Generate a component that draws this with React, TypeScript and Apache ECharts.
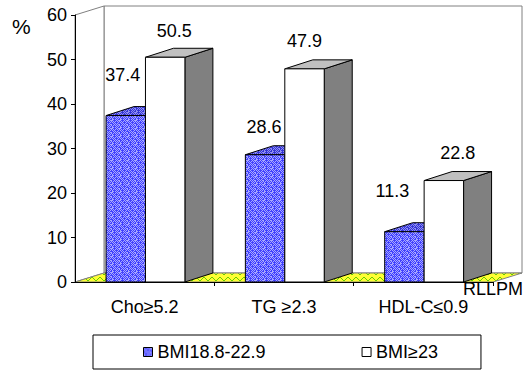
import React, { useEffect, useRef } from "react";
import * as echarts from "echarts";

const categories = ["Cho≥5.2", "TG ≥2.3", "HDL-C≤0.9"];
const seriesNames = ["BMI18.8-22.9", "BMI≥23"];
const bmiNormal = [37.4, 28.6, 11.3];
const bmiHigh = [50.5, 47.9, 22.8];
const yTicks = { min: 0, max: 60, interval: 10 };

const FONT = "'Liberation Sans', Arial, sans-serif";
const DX = 28;
const DY = -9;
const FDX = 29;

function makePattern(base: string, light: string, w: number, h: number, draw: (ctx: CanvasRenderingContext2D) => void) {
  const c = document.createElement("canvas");
  c.width = w;
  c.height = h;
  const ctx = c.getContext("2d")!;
  ctx.fillStyle = base;
  ctx.fillRect(0, 0, w, h);
  ctx.strokeStyle = light;
  ctx.fillStyle = light;
  draw(ctx);
  return { image: c, repeat: "repeat" } as any;
}

function weave(ctx: CanvasRenderingContext2D) {
  const rows = [
    "X...X.XX",
    ".X.X.X.X",
    "X.X...X.",
    ".X.X.X..",
    "..X.X.XX",
    ".X.X.X.X",
    "X...X.X.",
    "XX.X.X..",
  ];
  rows.forEach((r, y) => {
    for (let x = 0; x < r.length; x++) if (r[x] === "X") ctx.fillRect(x, y, 1, 1);
  });
}

function zigzag(ctx: CanvasRenderingContext2D) {
  ctx.lineWidth = 1;
  ctx.beginPath();
  ctx.moveTo(0, 5);
  ctx.lineTo(4, 1);
  ctx.lineTo(8, 5);
  ctx.stroke();
}

const labelNudge = [
  [[-3, -41], [-1, -28], [-12, -41]],
  [[9, -26], [0, -28], [14, -28]],
];

export default function App() {
  const ref = useRef<HTMLDivElement>(null);
  useEffect(() => {
    if (!ref.current) return;
    const chart = echarts.init(ref.current, null, { renderer: "svg" });

    const bluePat = makePattern("#4040ff", "#a8a8ff", 8, 8, weave);
    const blueTopPat = makePattern("#3434d8", "#9090f0", 8, 8, weave);
    const floorPat = makePattern("#ffff33", "#66cc00", 8, 6, zigzag);

    const barRender = (sIdx: number) => (params: any, api: any) => {
      const i = api.value(0);
      const v = api.value(1);
      const base = api.coord([i, 0]);
      const top = api.coord([i, v]);
      const band = api.size([1, 0])[0];
      const W = band * 0.283;
      const c = base[0] + 0.8;
      const x0 = sIdx === 0 ? c - W : c;
      const x1 = x0 + W;
      const yT = top[1];
      const yB = base[1];
      const frontFill = sIdx === 0 ? bluePat : "#ffffff";
      const topFill = sIdx === 0 ? blueTopPat : "#c0c0c0";
      const sideFill = sIdx === 0 ? "#2020a0" : "#808080";
      const stroke = { stroke: "#000", lineWidth: 1 };
      const nudge = labelNudge[sIdx][params.dataIndex];
      return {
        type: "group",
        children: [
          {
            type: "polygon",
            shape: { points: [[x1, yT], [x1 + DX, yT + DY], [x1 + DX, yB + DY], [x1, yB]] },
            style: { fill: sideFill, ...stroke },
          },
          {
            type: "polygon",
            shape: { points: [[x0, yT], [x1, yT], [x1 + DX, yT + DY], [x0 + DX, yT + DY]] },
            style: { fill: topFill, ...stroke },
          },
          {
            type: "rect",
            shape: { x: x0, y: yT, width: W, height: yB - yT },
            style: { fill: frontFill, ...stroke },
          },
          {
            type: "text",
            x: x0 + W / 2 + nudge[0],
            y: yT + nudge[1],
            style: {
              text: String(v),
              fontSize: 18,
              fontFamily: FONT,
              fill: "#000",
              align: "center",
              verticalAlign: "middle",
            },
          },
        ],
      };
    };

    const frameRender = (params: any, api: any) => {
      const cs = params.coordSys;
      const l = cs.x;
      const t = cs.y;
      const r = cs.x + cs.width;
      const b = cs.y + cs.height;
      const gray = { stroke: "#808080", lineWidth: 1 };
      return {
        type: "group",
        children: [
          {
            type: "polygon",
            shape: { points: [[l + FDX, t + DY], [r + FDX, t + DY], [r + FDX, b + DY], [l + FDX, b + DY]] },
            style: { fill: "#fff", ...gray },
          },
          {
            type: "polygon",
            shape: { points: [[l, t], [l + FDX, t + DY], [l + FDX, b + DY], [l, b]] },
            style: { fill: "#fff", ...gray },
          },
          {
            type: "polygon",
            shape: { points: [[l, b], [r, b], [r + FDX, b + DY], [l + FDX, b + DY]] },
            style: { fill: floorPat, ...gray },
          },
        ],
      };
    };

    chart.setOption({
      animation: false,
      backgroundColor: "#fff",
      textStyle: { fontFamily: FONT },
      grid: { left: 75, top: 15, width: 418, height: 267 },
      xAxis: {
        type: "category",
        data: categories,
        axisLine: { lineStyle: { color: "#000", width: 1 } },
        axisTick: {
          show: true,
          length: 4,
          lineStyle: { color: "#000" },
          interval: (i: number) => i === 1 || i === 2,
        },
        axisLabel: { fontSize: 18, color: "#000", margin: 16, fontFamily: FONT },
      },
      yAxis: {
        type: "value",
        min: yTicks.min,
        max: yTicks.max,
        interval: yTicks.interval,
        axisLine: { show: true, lineStyle: { color: "#000", width: 1 } },
        axisTick: { show: true, length: 4, lineStyle: { color: "#000" } },
        axisLabel: { fontSize: 18, color: "#000", margin: 8, fontFamily: FONT },
        splitLine: { show: false },
      },
      legend: {
        left: 93,
        top: 335,
        orient: "horizontal",
        itemGap: 96,
        itemWidth: 9,
        itemHeight: 9,
        padding: [8, 43, 8, 50],
        borderColor: "#000",
        borderWidth: 1,
        textStyle: { fontSize: 18, color: "#000", fontFamily: FONT },
        data: [
          { name: seriesNames[0], icon: "rect", itemStyle: { color: bluePat, borderColor: "#000", borderWidth: 1 } },
          { name: seriesNames[1], icon: "rect", itemStyle: { color: "#fff", borderColor: "#000", borderWidth: 1 } },
        ],
      },
      graphic: [
        { type: "text", left: 12, top: 16, style: { text: "%", fontSize: 21, fontFamily: FONT, fill: "#000" } },
        { type: "text", left: 377, top: 28, style: { text: "p < 0.001", fontSize: 18, fontFamily: FONT, fill: "#000" } },
        { type: "text", left: 463, top: 280, style: { text: "RLLPM", fontSize: 18, fontFamily: FONT, fill: "#000" } },
      ],
      series: [
        {
          name: "frame",
          type: "custom",
          renderItem: frameRender,
          data: [[0, 0]],
          silent: true,
          z: 0,
        },
        {
          name: seriesNames[0],
          type: "custom",
          renderItem: barRender(0),
          data: categories.map((c, i) => [i, bmiNormal[i]]),
          itemStyle: { color: bluePat, borderColor: "#000" },
          z: 2,
        },
        {
          name: seriesNames[1],
          type: "custom",
          renderItem: barRender(1),
          data: categories.map((c, i) => [i, bmiHigh[i]]),
          itemStyle: { color: "#fff", borderColor: "#000" },
          z: 3,
        },
      ],
    });
    return () => chart.dispose();
  }, []);
  return <div ref={ref} style={{ position: "fixed", left: 0, top: 0, width: 525, height: 374 }} />;
}
